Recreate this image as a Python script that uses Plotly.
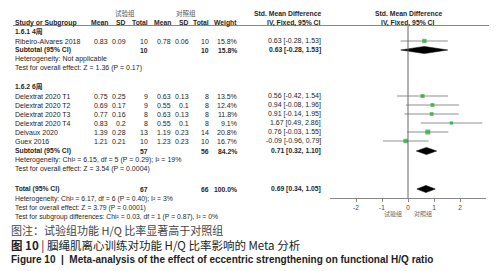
import plotly.graph_objects as go

W, H = 497, 271

# ---------------- data ----------------
studies = ["Ribeiro-Alvares 2018", "Delextrat 2020 T1", "Delextrat 2020 T2",
           "Delextrat 2020 T3", "Delextrat 2020 T4", "Delvaux 2020", "Guex 2016"]
exp_mean = ["0.83", "0.75", "0.69", "0.77", "0.83", "1.39", "1.21"]
exp_sd = ["0.09", "0.25", "0.17", "0.16", "0.2", "0.28", "0.21"]
exp_n = [10, 9, 9, 8, 8, 13, 10]
ctl_mean = ["0.78", "0.63", "0.55", "0.63", "0.55", "1.19", "1.23"]
ctl_sd = ["0.06", "0.13", "0.1", "0.13", "0.1", "0.23", "0.23"]
ctl_n = [10, 8, 8, 8, 8, 14, 10]
weight = [15.8, 13.5, 12.4, 11.8, 9.1, 20.8, 16.7]
smd = [0.63, 0.56, 0.94, 0.91, 1.67, 0.76, -0.09]
smd_lo = [-0.28, -0.42, -0.08, -0.14, 0.49, -0.03, -0.96]
smd_hi = [1.53, 1.54, 1.96, 1.95, 2.86, 1.55, 0.79]

sum_labels = ["Subtotal (95% CI)", "Subtotal (95% CI)", "Total (95% CI)"]
sum_exp_n = [10, 57, 67]
sum_ctl_n = [10, 56, 66]
sum_weight = [15.8, 84.2, 100.0]
sum_est = [0.63, 0.71, 0.69]
sum_lo = [-0.28, 0.32, 0.34]
sum_hi = [1.53, 1.10, 1.05]

x_ticks = [-2, -1, 0, 1, 2]

# ---------------- layout (pixel rows) ----------------
study_y = [33, 88, 97, 106, 115, 124, 133]
sum_y = [42, 143, 181]

FONT = "Liberation Sans, Arial, Noto Sans CJK SC, sans-serif"
CJK = "Noto Sans CJK SC, sans-serif"
FS = 7.0
FB = 6.8
TXT = "#262626"

def px(x):
    return x / W

ann = []

def t(x, y, s, anchor="left", size=FS, color=TXT, bold=False, font=FONT):
    if bold:
        s = "<b>" + s + "</b>"
    ann.append(dict(x=px(x), y=y, xref="paper", yref="y", text=s, showarrow=False,
                    xanchor=anchor, yanchor="middle",
                    font=dict(family=font, size=size, color=color)))

# columns (right edges for numbers)
C_NAME = 5
C_EM, C_ES, C_EN = 102, 120, 142
C_CM, C_CS, C_CN = 165, 183, 203
C_W, C_CI = 231, 315

# headers
t(117, 5, "试验组", "center", 6.5, "#555555", font=CJK)
t(178, 5, "对照组", "center", 6.5, "#555555", font=CJK)
t(C_CI, 5, "Std. Mean Difference", "right", size=FB, bold=True)
t(400, 5, "Std. Mean Difference", "center", size=FB, bold=True)
hy = 14.5
t(C_NAME, hy, "Study or Subgroup", size=FB, bold=True)
t(C_EM, hy, "Mean", "right", size=FB, bold=True)
t(C_ES, hy, "SD", "right", size=FB, bold=True)
t(C_EN, hy, "Total", "right", size=FB, bold=True)
t(C_CM, hy, "Mean", "right", size=FB, bold=True)
t(C_CS, hy, "SD", "right", size=FB, bold=True)
t(C_CN, hy, "Total", "right", size=FB, bold=True)
t(C_W, hy, "Weight", "right", size=FB, bold=True)
t(C_CI, hy, "IV, Fixed, 95% CI", "right", size=FB, bold=True)
t(400, hy, "IV, Fixed, 95% CI", "center", size=FB, bold=True)

t(C_NAME, 24, "1.6.1 4周", size=FB, bold=True)
t(C_NAME, 79, "1.6.2 6周", size=FB, bold=True)

for i, s in enumerate(studies):
    y = study_y[i]
    t(C_NAME, y, s)
    t(C_EM, y, exp_mean[i], "right")
    t(C_ES, y, exp_sd[i], "right")
    t(C_EN, y, str(exp_n[i]), "right")
    t(C_CM, y, ctl_mean[i], "right")
    t(C_CS, y, ctl_sd[i], "right")
    t(C_CN, y, str(ctl_n[i]), "right")
    t(C_W, y, f"{weight[i]:.1f}%", "right")
    t(C_CI, y, f"{smd[i]:.2f} [{smd_lo[i]:.2f}, {smd_hi[i]:.2f}]", "right")

for i, s in enumerate(sum_labels):
    y = sum_y[i]
    t(C_NAME, y, s, size=FB, bold=True)
    t(C_EN, y, str(sum_exp_n[i]), "right", size=FB, bold=True)
    t(C_CN, y, str(sum_ctl_n[i]), "right", size=FB, bold=True)
    t(C_W, y, f"{sum_weight[i]:.1f}%", "right", size=FB, bold=True)
    t(C_CI, y, f"{sum_est[i]:.2f} [{sum_lo[i]:.2f}, {sum_hi[i]:.2f}]", "right", size=FB, bold=True)

t(C_NAME, 51, "Heterogeneity: Not applicable")
t(C_NAME, 60, "Test for overall effect: Z = 1.36 (P = 0.17)")
t(C_NAME, 152, "Heterogeneity: Chi² = 6.15, df = 5 (P = 0.29); I² = 19%")
t(C_NAME, 161, "Test for overall effect: Z = 3.54 (P = 0.0004)")
t(C_NAME, 190.5, "Heterogeneity: Chi² = 6.17, df = 6 (P = 0.40); I² = 3%", size=6.8)
t(C_NAME, 199.5, "Test for overall effect: Z = 3.79 (P = 0.0001)", size=6.8)
t(C_NAME, 208.5, "Test for subgroup differences: Chi² = 0.03, df = 1 (P = 0.87), I² = 0%", size=6.8)

# favour labels
t(396, 205, "试验组", "right", 6, "#666666", font=CJK)
t(404, 205, "对照组", "left", 6, "#666666", font=CJK)

# captions
t(1, 222, "图注：试验组功能 H/Q 比率显著高于对照组", size=11, color="#444444", font=CJK)
t(1, 236.5, "<b>图 10</b> | 腘绳肌离心训练对功能 H/Q 比率影响的 Meta 分析", size=11.5, color="#222222", font=CJK)
t(1, 251.5, "<b>Figure 10  |  Meta-analysis of the effect of eccentric strengthening on functional H/Q ratio</b>",
  size=10.0, color="#222222", font="Liberation Sans, Arial, sans-serif")

fig = go.Figure()

# CI lines
for i in range(len(studies)):
    fig.add_trace(go.Scatter(x=[smd_lo[i], smd_hi[i]], y=[study_y[i], study_y[i]],
                             mode="lines", line=dict(color="#8f8f8f", width=1.2),
                             hoverinfo="skip", showlegend=False))
# squares
fig.add_trace(go.Scatter(x=smd, y=study_y, mode="markers",
                         marker=dict(symbol="square", color="#1fa22a",
                                     size=[1.1 * w ** 0.5 for w in weight],
                                     line=dict(width=0)),
                         showlegend=False))
# diamonds
DH = 3.6
for i in range(3):
    y = sum_y[i]
    fig.add_trace(go.Scatter(x=[sum_lo[i], sum_est[i], sum_hi[i], sum_est[i], sum_lo[i]],
                             y=[y, y - DH, y, y + DH, y], mode="lines", fill="toself",
                             fillcolor="black", line=dict(color="black", width=0.5),
                             showlegend=False))

# zero line & header line
shapes = [
    dict(type="line", xref="x", yref="y", x0=0, x1=0, y0=17.5, y1=190,
         line=dict(color="#666666", width=1)),
    dict(type="line", xref="paper", yref="y", x0=px(5), x1=px(483), y0=17.5, y1=17.5,
         line=dict(color="#888888", width=1)),
]

fig.update_layout(
    width=W, height=H, margin=dict(l=0, r=0, t=0, b=0),
    paper_bgcolor="white", plot_bgcolor="white",
    annotations=ann, shapes=shapes, showlegend=False,
    xaxis=dict(domain=[px(322), px(478)], range=[-3, 3], anchor="free",
               position=1 - 190 / H, showline=True, linecolor="#888888", linewidth=1,
               ticks="outside", ticklen=3, tickcolor="#888888", tickvals=x_ticks,
               ticktext=[str(v) for v in x_ticks], showgrid=False, zeroline=False,
               tickfont=dict(family=FONT, size=6.5, color="#444444")),
    yaxis=dict(domain=[0, 1], range=[H, 0], visible=False, showgrid=False, zeroline=False),
)

fig.write_html("out.html")
